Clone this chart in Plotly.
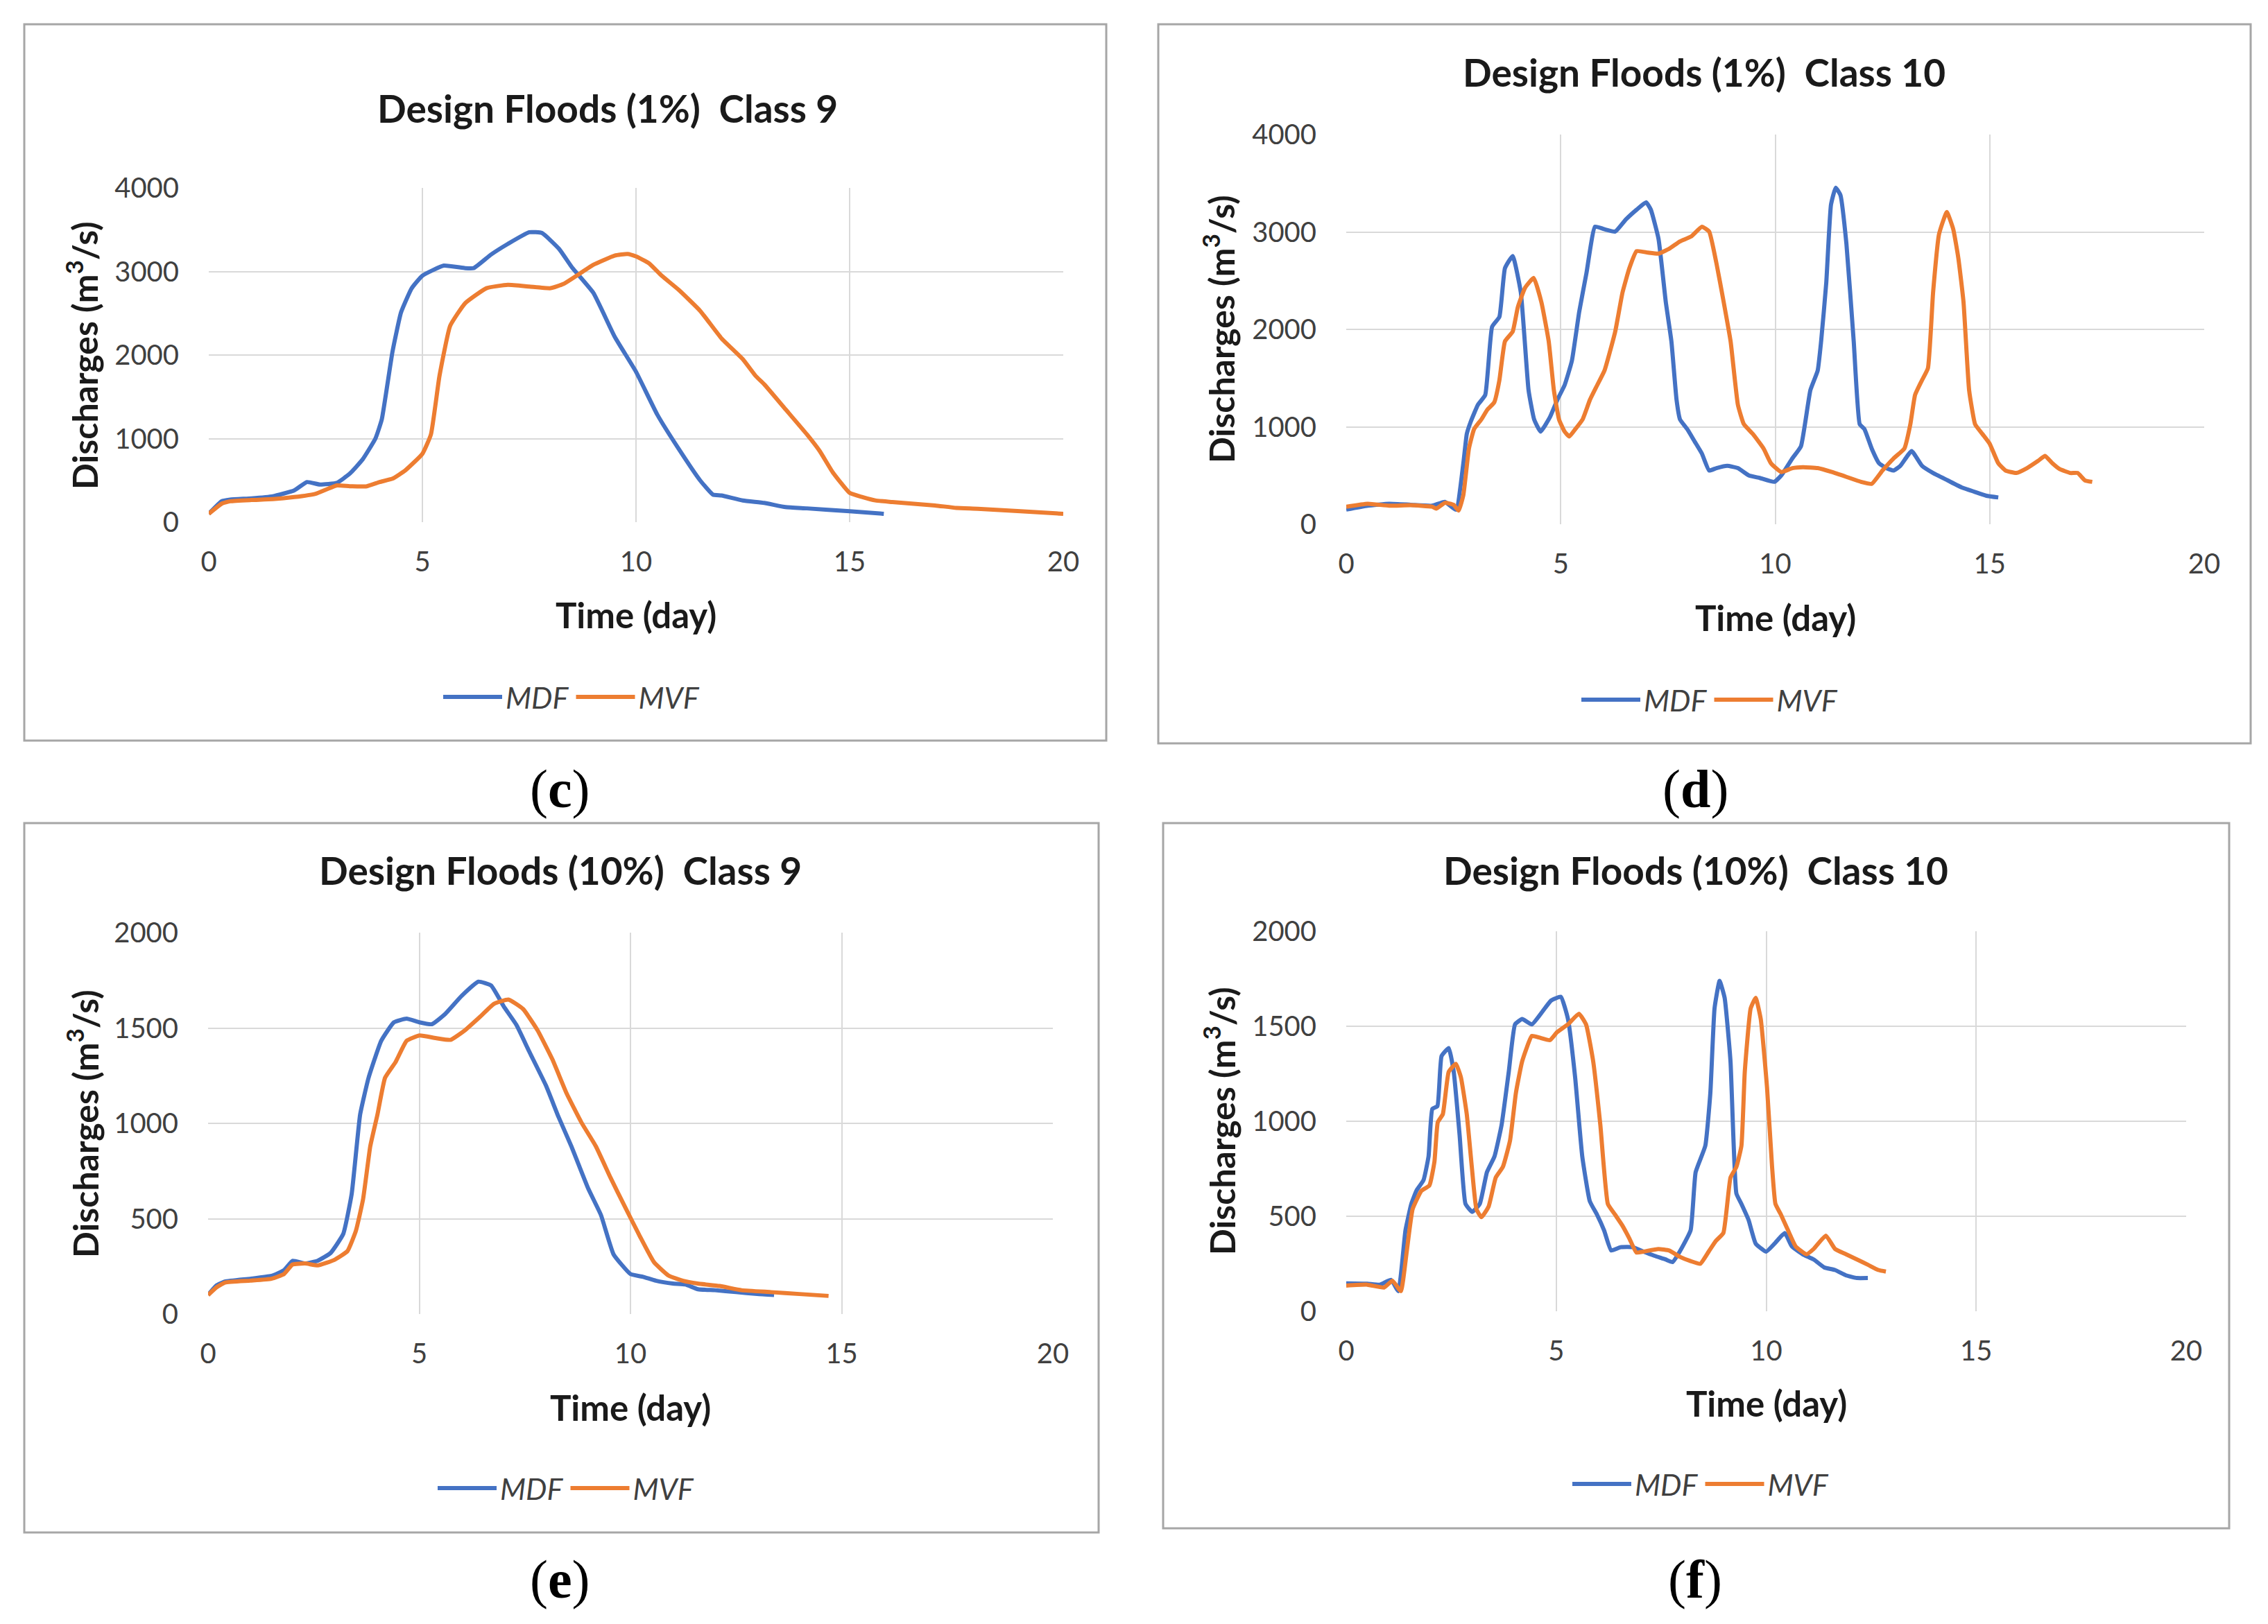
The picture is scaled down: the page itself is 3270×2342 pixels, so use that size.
import plotly.graph_objects as go

# ---------------- data ----------------
# (c) Design Floods (1%) Class 9
c_mdf_t = [0, 0.3, 0.5, 1, 1.5, 2, 2.3, 2.6, 3, 3.3, 3.6, 3.9, 4.05, 4.3, 4.5, 4.75, 5, 5.5, 6, 6.2, 6.6, 7, 7.5, 7.8, 8.2, 8.5, 9, 9.5, 10, 10.5, 11, 11.5, 11.8, 12, 12.5, 13, 13.5, 14, 15, 15.8]
c_mdf_q = [100, 250, 270, 285, 310, 380, 480, 450, 470, 580, 750, 1000, 1230, 2040, 2510, 2800, 2950, 3070, 3040, 3040, 3200, 3330, 3470, 3460, 3270, 3050, 2745, 2220, 1800, 1285, 876, 500, 330, 320, 260, 230, 180, 165, 130, 100]
c_mvf_t = [0, 0.3, 0.5, 1, 1.5, 2, 2.5, 3, 3.3, 3.7, 4, 4.3, 4.6, 5, 5.2, 5.4, 5.65, 6, 6.5, 7, 7.5, 8, 8.3, 8.7, 9, 9.5, 9.8, 10, 10.3, 10.6, 11, 11.5, 12, 12.5, 12.8, 13, 13.5, 14, 14.3, 14.6, 15, 15.3, 15.6, 16, 16.5, 17, 17.5, 18, 19, 20]
c_mvf_q = [100, 220, 250, 265, 275, 300, 340, 440, 430, 430, 480, 520, 620, 818, 1050, 1750, 2350, 2620, 2800, 2840, 2820, 2800, 2850, 2980, 3080, 3190, 3210, 3180, 3100, 2950, 2780, 2530, 2200, 1950, 1750, 1650, 1350, 1050, 850, 600, 350, 300, 260, 240, 220, 200, 170, 160, 130, 100]

# (d) Design Floods (1%) Class 10
d_mdf_t = [0, 0.5, 1, 1.5, 2, 2.3, 2.56, 2.73, 2.81, 2.9, 3.07, 3.24, 3.4, 3.57, 3.7, 3.88, 4.07, 4.25, 4.38, 4.53, 4.75, 4.92, 5.09, 5.26, 5.43, 5.6, 5.8, 6.01, 6.27, 6.52, 6.77, 6.99, 7.1, 7.28, 7.45, 7.58, 7.7, 7.78, 7.95, 8.12, 8.29, 8.46, 8.63, 8.88, 9.13, 9.39, 9.64, 9.98, 10.14, 10.4, 10.6, 10.82, 10.99, 11.07, 11.19, 11.3, 11.41, 11.52, 11.66, 11.83, 11.97, 12.08, 12.25, 12.42, 12.59, 12.76, 12.92, 13.18, 13.42, 13.68, 14.02, 14.36, 14.7, 14.95, 15.2]
d_mdf_q = [150, 190, 210, 200, 190, 230, 150, 626, 926, 1050, 1226, 1326, 2027, 2128, 2628, 2753, 2378, 1377, 1076, 951, 1100, 1276, 1427, 1677, 2178, 2578, 3054, 3029, 3004, 3129, 3229, 3304, 3229, 2928, 2278, 1877, 1276, 1076, 976, 851, 726, 551, 576, 600, 576, 500, 475, 435, 500, 676, 800, 1377, 1577, 1877, 2478, 3279, 3454, 3379, 2878, 1877, 1026, 976, 776, 626, 576, 551, 601, 751, 601, 526, 450, 375, 325, 290, 275]
d_mvf_t = [0, 0.5, 1, 1.5, 2, 2.1, 2.3, 2.5, 2.62, 2.73, 2.86, 2.98, 3.15, 3.29, 3.45, 3.57, 3.7, 3.88, 4.0, 4.17, 4.37, 4.55, 4.72, 4.84, 4.96, 5.09, 5.2, 5.34, 5.51, 5.68, 5.85, 6.02, 6.27, 6.44, 6.6, 6.77, 7.03, 7.28, 7.53, 7.78, 8.04, 8.29, 8.46, 8.63, 8.8, 8.96, 9.13, 9.27, 9.48, 9.73, 9.9, 10.14, 10.4, 10.65, 10.99, 11.32, 11.66, 12.0, 12.25, 12.5, 12.76, 13.01, 13.15, 13.26, 13.42, 13.56, 13.68, 13.82, 14.0, 14.15, 14.27, 14.39, 14.52, 14.66, 14.83, 15.0, 15.2, 15.37, 15.62, 15.87, 16.13, 16.29, 16.46, 16.63, 16.88, 17.05, 17.22, 17.39]
d_mvf_q = [180, 210, 190, 195, 180, 160, 220, 200, 140, 300, 776, 976, 1076, 1176, 1251, 1477, 1877, 1977, 2228, 2428, 2528, 2278, 1877, 1377, 1076, 951, 901, 976, 1076, 1276, 1427, 1577, 1977, 2378, 2628, 2803, 2788, 2778, 2828, 2903, 2953, 3054, 3004, 2678, 2278, 1877, 1226, 1026, 926, 776, 626, 536, 576, 586, 576, 536, 486, 435, 415, 551, 676, 776, 1026, 1327, 1477, 1602, 2378, 2979, 3204, 3029, 2728, 2278, 1377, 1026, 926, 826, 626, 551, 526, 576, 651, 701, 626, 566, 526, 526, 450, 435]

# (e) Design Floods (10%) Class 9
e_mdf_t = [0, 0.2, 0.4, 1, 1.5, 1.8, 2.0, 2.3, 2.6, 2.9, 3.2, 3.4, 3.6, 3.8, 4.1, 4.4, 4.7, 5.0, 5.3, 5.6, 6.0, 6.4, 6.7, 7.0, 7.3, 7.6, 8.0, 8.3, 8.6, 9.0, 9.3, 9.6, 10, 10.3, 10.6, 11, 11.3, 11.6, 12, 12.5, 13, 13.4]
e_mdf_q = [100, 150, 170, 185, 200, 230, 279, 265, 280, 320, 420, 630, 1046, 1239, 1433, 1530, 1549, 1530, 1520, 1571, 1668, 1743, 1723, 1613, 1516, 1378, 1198, 1032, 880, 658, 520, 313, 210, 195, 175, 160, 155, 130, 125, 115, 105, 100]
e_mvf_t = [0, 0.2, 0.4, 1, 1.5, 1.8, 2.0, 2.3, 2.6, 3.0, 3.3, 3.5, 3.67, 3.84, 4.01, 4.19, 4.44, 4.7, 5.01, 5.39, 5.74, 6.08, 6.43, 6.77, 7.11, 7.46, 7.8, 8.15, 8.49, 8.84, 9.18, 9.53, 9.87, 10.22, 10.56, 10.9, 11.25, 11.59, 12.11, 12.63, 13.32, 14.0, 14.69]
e_mvf_q = [100, 140, 165, 175, 185, 210, 260, 265, 255, 285, 330, 437, 603, 880, 1046, 1239, 1322, 1433, 1461, 1447, 1438, 1488, 1557, 1627, 1649, 1599, 1488, 1336, 1156, 1004, 880, 714, 562, 409, 271, 202, 174, 160, 147, 125, 115, 105, 95]

# (f) Design Floods (10%) Class 10
f_mdf_t = [0, 0.5, 0.8, 1.07, 1.24, 1.41, 1.55, 1.67, 1.84, 1.96, 2.05, 2.17, 2.27, 2.44, 2.56, 2.7, 2.84, 3.0, 3.18, 3.35, 3.53, 3.7, 3.87, 4.02, 4.19, 4.42, 4.68, 4.88, 5.11, 5.28, 5.45, 5.62, 5.8, 5.97, 6.14, 6.31, 6.53, 6.83, 7.08, 7.34, 7.6, 7.77, 7.94, 8.2, 8.32, 8.55, 8.67, 8.77, 8.89, 9.01, 9.15, 9.29, 9.41, 9.58, 9.75, 10.0, 10.2, 10.44, 10.61, 10.87, 11.13, 11.38, 11.64, 11.9, 12.16, 12.42]
f_mdf_q = [147, 145, 140, 165, 106, 425, 565, 634, 690, 815, 1065, 1079, 1343, 1385, 1260, 926, 565, 523, 565, 732, 815, 982, 1260, 1510, 1538, 1510, 1580, 1636, 1655, 1538, 1232, 815, 579, 509, 426, 320, 337, 337, 314, 292, 273, 259, 314, 426, 732, 871, 1149, 1594, 1739, 1650, 1316, 620, 565, 481, 356, 314, 356, 412, 342, 300, 273, 231, 217, 189, 175, 175]
f_mvf_t = [0, 0.5, 0.9, 1.1, 1.3, 1.44, 1.58, 1.79, 1.98, 2.1, 2.18, 2.3, 2.44, 2.61, 2.73, 2.87, 2.99, 3.1, 3.22, 3.39, 3.56, 3.73, 3.9, 4.04, 4.19, 4.42, 4.59, 4.85, 5.02, 5.28, 5.54, 5.71, 5.88, 6.05, 6.23, 6.4, 6.57, 6.74, 6.91, 7.08, 7.43, 7.69, 7.94, 8.2, 8.43, 8.63, 8.8, 8.98, 9.15, 9.29, 9.41, 9.49, 9.63, 9.75, 9.87, 10.02, 10.14, 10.22, 10.35, 10.52, 10.7, 10.96, 11.13, 11.42, 11.64, 11.9, 12.16, 12.42, 12.67, 12.85]
f_mvf_q = [135, 140, 125, 161, 106, 314, 537, 634, 662, 787, 995, 1037, 1260, 1302, 1232, 1037, 760, 537, 495, 551, 704, 760, 898, 1149, 1316, 1449, 1441, 1427, 1469, 1510, 1566, 1510, 1316, 982, 565, 509, 453, 384, 309, 314, 328, 320, 287, 264, 250, 314, 370, 412, 704, 760, 871, 1260, 1594, 1650, 1538, 1177, 760, 565, 509, 426, 342, 300, 328, 398, 328, 300, 273, 245, 217, 209]

titles = ["Design Floods (1%)  Class 9", "Design Floods (1%)  Class 10",
          "Design Floods (10%)  Class 9", "Design Floods (10%)  Class 10"]
panel_labels = ["c", "d", "e", "f"]
series_names = ["MDF", "MVF"]
y_max = [4000, 4000, 2000, 2000]
y_step = [1000, 1000, 500, 500]
x_ticks = [0, 5, 10, 15, 20]

panels = [
    (c_mdf_t, c_mdf_q, c_mvf_t, c_mvf_q),
    (d_mdf_t, d_mdf_q, d_mvf_t, d_mvf_q),
    (e_mdf_t, e_mdf_q, e_mvf_t, e_mvf_q),
    (f_mdf_t, f_mdf_q, f_mvf_t, f_mvf_q),
]

# ---------------- layout geometry (pixels) ----------------
W, H = 3270, 2342
plot_px = [(301, 1533, 271, 753), (1941, 3178, 194, 756),
           (300, 1518, 1345, 1895), (1941, 3152, 1343, 1891)]
box_px = [(35, 35, 1595, 1068), (1670, 35, 3245, 1072),
          (35, 1187, 1584, 2210), (1677, 1187, 3214, 2204)]
title_xy = [(876, 156), (2457, 104), (808, 1255), (2445, 1255)]
xtitle_y = [886, 890, 2029, 2023]
ytitle_x = [119, 1758, 119, 1758]
legend_xy = [(824, 1005), (2465, 1009), (816, 2146), (2452, 2140)]
label_xy = [(807, 1137), (2444, 1137), (807, 2277), (2444, 2277)]

BLUE = "#4472C4"
ORANGE = "#ED7D31"
FONT = "Lato"

def fx(px):
    return px / W

def fy(py):
    return 1 - py / H

fig = go.Figure()
layout = dict(
    width=W, height=H,
    margin=dict(l=0, r=0, t=0, b=0, pad=0, autoexpand=False),
    paper_bgcolor="white", plot_bgcolor="white",
    font=dict(family=FONT, color="#404040"),
    showlegend=True,
)
annotations = []
shapes = []

for i, (t1, q1, t2, q2) in enumerate(panels):
    n = "" if i == 0 else str(i + 1)
    xa, ya = "x" + n, "y" + n
    lg = "legend" + n
    for t, q, name, col in [(t1, q1, series_names[0], BLUE), (t2, q2, series_names[1], ORANGE)]:
        fig.add_trace(go.Scatter(
            x=t, y=q, mode="lines", name=name,
            line=dict(color=col, width=6, shape="spline", smoothing=0.4),
            xaxis=xa, yaxis=ya, legend=lg,
        ))
    x0, x1, y0, y1 = plot_px[i]
    layout["xaxis" + n] = dict(
        domain=[fx(x0), fx(x1)], range=[0, 20], tickvals=x_ticks,
        showgrid=True, gridcolor="#D9D9D9", gridwidth=2, zeroline=False,
        showline=False, ticks="", anchor=ya,
        tickfont=dict(family=FONT, size=40, color="#404040"),
        ticklabelstandoff=30,
    )
    layout["yaxis" + n] = dict(
        domain=[fy(y1), fy(y0)], range=[0, y_max[i]], dtick=y_step[i],
        showgrid=True, gridcolor="#D9D9D9", gridwidth=2, zeroline=False,
        showline=False, ticks="", anchor=xa,
        tickfont=dict(family=FONT, size=40, color="#404040"),
        ticklabelstandoff=42,
    )
    lx, ly = legend_xy[i]
    layout[lg] = dict(
        orientation="h", x=fx(lx), y=fy(ly), xanchor="center", yanchor="middle",
        font=dict(family=FONT, size=43, color="#404040", style="italic"),
        itemwidth=85, bgcolor="rgba(0,0,0,0)", tracegroupgap=0,
    )
    # chart frame
    bx0, by0, bx1, by1 = box_px[i]
    shapes.append(dict(type="rect", xref="paper", yref="paper",
                       x0=fx(bx0), x1=fx(bx1), y0=fy(by1), y1=fy(by0),
                       line=dict(color="#A6A6A6", width=3), layer="below"))
    tx, ty = title_xy[i]
    annotations.append(dict(text="<b>" + titles[i] + "</b>", xref="paper", yref="paper",
                            x=fx(tx), y=fy(ty), xanchor="center", yanchor="middle",
                            showarrow=False, font=dict(family=FONT, size=55, color="#1a1a1a")))
    annotations.append(dict(text="<b>Time (day)</b>", xref="paper", yref="paper",
                            x=fx((x0 + x1) / 2), y=fy(xtitle_y[i]),
                            xanchor="center", yanchor="middle", showarrow=False,
                            font=dict(family=FONT, size=51, color="#1a1a1a")))
    annotations.append(dict(text="<b>Discharges (m<sup>3</sup>/s)</b>", xref="paper", yref="paper",
                            x=fx(ytitle_x[i]), y=fy((y0 + y1) / 2), textangle=-90,
                            xanchor="center", yanchor="middle", showarrow=False,
                            font=dict(family=FONT, size=50, color="#1a1a1a")))
    px_, py_ = label_xy[i]
    annotations.append(dict(text="(<b>" + panel_labels[i] + "</b>)", xref="paper", yref="paper",
                            x=fx(px_), y=fy(py_), xanchor="center", yanchor="middle",
                            showarrow=False,
                            font=dict(family="Liberation Serif", size=78, color="black")))

layout["annotations"] = annotations
layout["shapes"] = shapes
fig.update_layout(**layout)
fig.write_html("out.html", config={"displayModeBar": False},
               post_script="document.body.style.margin='0';document.body.style.overflow='hidden';")
